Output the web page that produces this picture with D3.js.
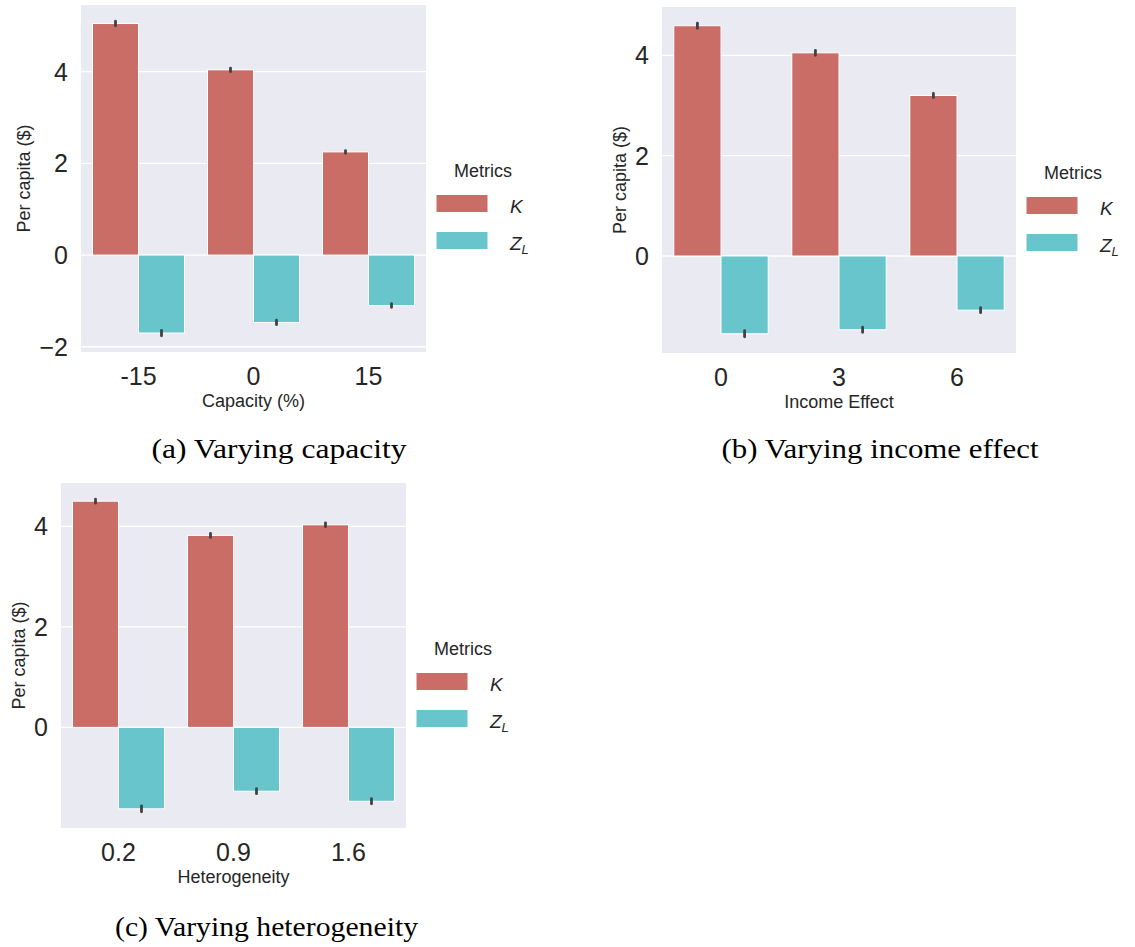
<!DOCTYPE html>
<html>
<head>
<meta charset="utf-8">
<script src="https://cdn.jsdelivr.net/npm/d3@7"></script>
<style>
  html, body { margin: 0; padding: 0; background: #ffffff; }
  svg { display: block; }
</style>
</head>
<body>
<svg id="fig" width="1135" height="947"></svg>
<script>
// ---- data -------------------------------------------------------------
const metricKeys = ["K", "Z_L"];

const capacityLabels = ["-15", "0", "15"];
const capacityK      = [5.05, 4.04, 2.25];
const capacityZL     = [-1.70, -1.47, -1.10];
const capacityKErr   = [0.06, 0.05, 0.04];
const capacityZLErr  = [0.07, 0.06, 0.05];
const capacityTicks  = [-2, 0, 2, 4];

const incomeLabels   = ["0", "3", "6"];
const incomeK        = [4.59, 4.05, 3.20];
const incomeZL       = [-1.55, -1.47, -1.08];
const incomeKErr     = [0.06, 0.06, 0.05];
const incomeZLErr    = [0.07, 0.06, 0.06];
const incomeTicks    = [0, 2, 4];

const heteroLabels   = ["0.2", "0.9", "1.6"];
const heteroK        = [4.50, 3.82, 4.03];
const heteroZL       = [-1.62, -1.27, -1.47];
const heteroKErr     = [0.05, 0.05, 0.05];
const heteroZLErr    = [0.07, 0.06, 0.06];
const heteroTicks    = [0, 2, 4];

const captions = ["(a) Varying capacity", "(b) Varying income effect", "(c) Varying heterogeneity"];

// ---- style ------------------------------------------------------------
const colors = { "K": "#cb6d67", "Z_L": "#67c5cb" };
const panelBg = "#eaeaf2";
const textColor = "#262626";
const errColor = "#424242";
const sans = "'Liberation Sans', Arial, Helvetica, sans-serif";
const serif = "'Liberation Serif', 'Times New Roman', serif";

const svg = d3.select("#fig");
svg.append("rect").attr("width", 1135).attr("height", 947).attr("fill", "#ffffff");

function drawPanel(cfg) {
  const { x0, y0, w, h, labels, k, zl, kErr, zlErr, ticks, xTitle } = cfg;
  const g = svg.append("g");

  // value extent including error bars, padded by 5% like matplotlib's autoscale
  const hiVals = k.map((v, i) => v + kErr[i]);
  const loVals = zl.map((v, i) => v - zlErr[i]);
  const lo = Math.min(0, d3.min(loVals));
  const hi = Math.max(0, d3.max(hiVals));
  const pad = 0.05 * (hi - lo);

  const y = d3.scaleLinear().domain([lo - pad, hi + pad]).range([y0 + h, y0]);
  const x = d3.scaleBand().domain(labels).range([x0, x0 + w]).paddingInner(0.2).paddingOuter(0.1);
  const xs = d3.scaleBand().domain(metricKeys).range([0, x.bandwidth()]);

  // plot background
  g.append("rect").attr("x", x0).attr("y", y0).attr("width", w).attr("height", h).attr("fill", panelBg);

  // horizontal grid
  g.append("g").selectAll("line").data(ticks).join("line")
    .attr("x1", x0).attr("x2", x0 + w)
    .attr("y1", d => y(d)).attr("y2", d => y(d))
    .attr("stroke", "#ffffff").attr("stroke-width", 1.3);

  // bars
  const rows = [];
  labels.forEach((lab, i) => {
    rows.push({ cat: lab, key: "K", v: k[i], e: kErr[i] });
    rows.push({ cat: lab, key: "Z_L", v: zl[i], e: zlErr[i] });
  });

  g.append("g").selectAll("rect").data(rows).join("rect")
    .attr("x", d => x(d.cat) + xs(d.key))
    .attr("y", d => Math.min(y(d.v), y(0)))
    .attr("width", xs.bandwidth())
    .attr("height", d => Math.abs(y(d.v) - y(0)))
    .attr("fill", d => colors[d.key])
    .attr("stroke", "#ffffff").attr("stroke-width", 1);

  // error bars
  g.append("g").selectAll("line").data(rows).join("line")
    .attr("x1", d => x(d.cat) + xs(d.key) + xs.bandwidth() / 2)
    .attr("x2", d => x(d.cat) + xs(d.key) + xs.bandwidth() / 2)
    .attr("y1", d => y(d.v - d.e) - 0.5)
    .attr("y2", d => y(d.v + d.e) + 0.5)
    .attr("stroke", errColor).attr("stroke-width", 2.8).attr("stroke-linecap", "round");

  // y tick labels
  const yt = g.append("g").selectAll("text").data(ticks).join("text")
    .attr("x", x0 - 13).attr("y", d => y(d))
    .attr("dy", "0.36em")
    .attr("text-anchor", "end")
    .attr("font-family", sans).attr("font-size", 25).attr("fill", textColor)
    .text(d => d < 0 ? "\u2212" + Math.abs(d) : String(d));

  // x tick labels
  g.append("g").selectAll("text").data(labels).join("text")
    .attr("x", d => x(d) + x.bandwidth() / 2)
    .attr("y", y0 + h + 33)
    .attr("text-anchor", "middle")
    .attr("font-family", sans).attr("font-size", 25).attr("fill", textColor)
    .text(d => d);

  // x axis title
  g.append("text")
    .attr("x", x0 + w / 2).attr("y", y0 + h + 55)
    .attr("text-anchor", "middle")
    .attr("font-family", sans).attr("font-size", 18).attr("fill", textColor)
    .text(xTitle);

  // y axis title, placed just left of the widest tick label
  let minLeft = x0;
  yt.each(function () { minLeft = Math.min(minLeft, this.getBBox().x); });
  const tx = minLeft - 9;
  const ty = y0 + h / 2;
  g.append("text")
    .attr("transform", `translate(${tx},${ty}) rotate(-90)`)
    .attr("text-anchor", "middle")
    .attr("font-family", sans).attr("font-size", 18).attr("fill", textColor)
    .text("Per capita ($)");

  // legend
  const lx = x0 + w;
  const lg = g.append("g");
  lg.append("text")
    .attr("x", lx + 57).attr("y", y0 + 172)
    .attr("text-anchor", "middle")
    .attr("font-family", sans).attr("font-size", 18).attr("fill", textColor)
    .text("Metrics");

  metricKeys.forEach((key, j) => {
    const top = y0 + 189.5 + j * 37;
    lg.append("rect")
      .attr("x", lx + 10).attr("y", top)
      .attr("width", 52).attr("height", 18)
      .attr("fill", colors[key]).attr("stroke", "#ffffff").attr("stroke-width", 1);
    const parts = key.split("_");
    const t = lg.append("text")
      .attr("x", lx + 84).attr("y", top + 18.5)
      .attr("font-family", sans).attr("font-size", 19).attr("font-style", "italic")
      .attr("fill", textColor);
    t.append("tspan").text(parts[0]);
    if (parts[1]) {
      t.append("tspan").attr("font-size", 13).attr("dy", 4).text(parts[1]);
    }
  });
}

drawPanel({
  x0: 81, y0: 5, w: 345, h: 347,
  labels: capacityLabels, k: capacityK, zl: capacityZL,
  kErr: capacityKErr, zlErr: capacityZLErr, ticks: capacityTicks,
  xTitle: "Capacity (%)"
});

drawPanel({
  x0: 662, y0: 7, w: 354, h: 346,
  labels: incomeLabels, k: incomeK, zl: incomeZL,
  kErr: incomeKErr, zlErr: incomeZLErr, ticks: incomeTicks,
  xTitle: "Income Effect"
});

drawPanel({
  x0: 61, y0: 483, w: 345, h: 345,
  labels: heteroLabels, k: heteroK, zl: heteroZL,
  kErr: heteroKErr, zlErr: heteroZLErr, ticks: heteroTicks,
  xTitle: "Heterogeneity"
});

// sub-figure captions
const capPos = [
  { cx: 279, y: 458, len: 255 },
  { cx: 880, y: 458, len: 317 },
  { cx: 266.5, y: 936, len: 303 }
];
svg.append("g").selectAll("text").data(captions).join("text")
  .attr("x", (d, i) => capPos[i].cx)
  .attr("y", (d, i) => capPos[i].y)
  .attr("text-anchor", "middle")
  .attr("font-family", serif).attr("font-size", 27).attr("fill", "#000000")
  .attr("textLength", (d, i) => capPos[i].len)
  .attr("lengthAdjust", "spacingAndGlyphs")
  .text(d => d);
</script>
</body>
</html>
